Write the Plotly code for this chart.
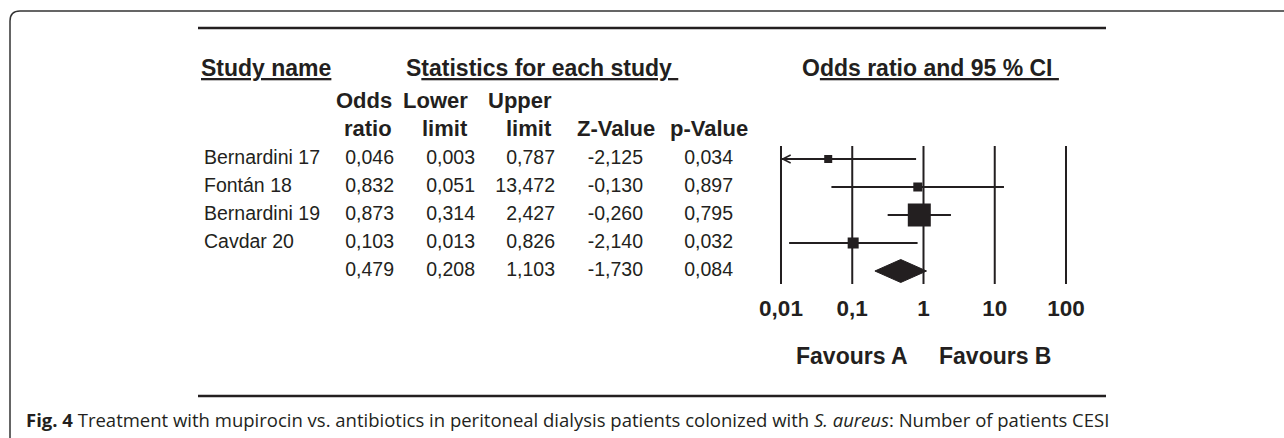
import math
import plotly.graph_objects as go

W, H = 1284, 438

# ---------------- data ----------------
studies = ["Bernardini 17", "Fontán 18", "Bernardini 19", "Cavdar 20"]
odds_ratio = [0.046, 0.832, 0.873, 0.103]
lower_limit = [0.003, 0.051, 0.314, 0.013]
upper_limit = [0.787, 13.472, 2.427, 0.826]
z_value = [-2.125, -0.130, -0.260, -2.140]
p_value = [0.034, 0.897, 0.795, 0.032]

summary_or = 0.479
summary_lower = 0.208
summary_upper = 1.103
summary_z = -1.730
summary_p = 0.084

tick_values = [0.01, 0.1, 1, 10, 100]
tick_labels = ["0,01", "0,1", "1", "10", "100"]

# ---------------- styles / layout ----------------
INK = "#231f20"
SANS = "Liberation Sans, Arial, sans-serif"
square_sizes = [8, 9, 23, 11]
ROW0_PX, ROW_STEP = 159, 28          # pixel position of first row, row spacing
DIAMOND_HALF = 0.41                  # half height of diamond (rows)
LINE_EXT = 0.46                      # vertical guide overhang (rows)
AX_MIN, AX_MAX = -2.0, 2.0           # log10 range of forest axis
PAD = 0.05
X0_PX, X1_PX = 781, 1066             # pixel positions of 0.01 and 100
DEC = (X1_PX - X0_PX) / (AX_MAX - AX_MIN)

name_x = 204
num_right = [394, 475, 555, 643, 733]
head_right = [394, 470, 554, 657, 750]


def fmt(v):
    return f"{v:.3f}".replace(".", ",")


def ppx(x):
    return x / W


def ppy(y):
    return 1 - y / H


n = len(studies)
rows = list(range(n))
sum_row = n

fig = go.Figure()

# vertical guide lines
for v in tick_values:
    fig.add_trace(go.Scatter(x=[v, v], y=[-LINE_EXT, sum_row + LINE_EXT], mode="lines",
                             line=dict(color=INK, width=2), xaxis="x", yaxis="y",
                             hoverinfo="skip"))

# confidence intervals
axis_lo = 10 ** AX_MIN
for i in rows:
    lo = max(lower_limit[i], axis_lo)
    fig.add_trace(go.Scatter(x=[lo, upper_limit[i]], y=[i, i], mode="lines",
                             line=dict(color=INK, width=2), xaxis="x", yaxis="y",
                             hoverinfo="skip"))

# squares
fig.add_trace(go.Scatter(x=odds_ratio, y=rows, mode="markers",
                         marker=dict(symbol="square", size=square_sizes, color=INK,
                                     opacity=1, line=dict(width=0)),
                         xaxis="x", yaxis="y", hoverinfo="skip"))

# summary diamond
fig.add_trace(go.Scatter(
    x=[summary_lower, summary_or, summary_upper, summary_or, summary_lower],
    y=[sum_row, sum_row - DIAMOND_HALF, sum_row, sum_row + DIAMOND_HALF, sum_row],
    mode="lines", fill="toself", fillcolor=INK, line=dict(color=INK, width=1),
    xaxis="x", yaxis="y", hoverinfo="skip"))

# tick labels
tick_row = (310 - ROW0_PX) / ROW_STEP
fig.add_trace(go.Scatter(x=tick_values, y=[tick_row] * len(tick_values), mode="text",
                         text=[f"<b>{t}</b>" for t in tick_labels],
                         textfont=dict(family=SANS, size=22.5, color=INK),
                         textposition="middle center", cliponaxis=False,
                         xaxis="x", yaxis="y", hoverinfo="skip"))

# table: study names
fig.add_trace(go.Scatter(x=[name_x] * n, y=rows, mode="text", text=studies,
                         textposition="middle right", cliponaxis=False,
                         textfont=dict(family=SANS, size=19.5, color=INK),
                         xaxis="x2", yaxis="y", hoverinfo="skip"))

columns = [
    odds_ratio + [summary_or],
    lower_limit + [summary_lower],
    upper_limit + [summary_upper],
    z_value + [summary_z],
    p_value + [summary_p],
]
for xr, col in zip(num_right, columns):
    fig.add_trace(go.Scatter(x=[xr] * len(col), y=list(range(len(col))), mode="text",
                             text=[fmt(v) for v in col], textposition="middle left",
                             cliponaxis=False,
                             textfont=dict(family=SANS, size=19.5, color=INK),
                             xaxis="x2", yaxis="y", hoverinfo="skip"))

annotations = []
# main headers
for txt, x in [("<u>Study name</u>", 199),
               ("S<u>tatistics for each study\u00a0</u>", 404),
               ("O<u>dds ratio and 95 % CI\u00a0</u>", 800)]:
    annotations.append(dict(text=f"<b>{txt}</b>", x=ppx(x), y=ppy(68), xref="paper",
                            yref="paper", xanchor="left", yanchor="middle",
                            showarrow=False, font=dict(family=SANS, size=23, color=INK)))
# column headers
head1 = ["Odds", "Lower", "Upper", "", ""]
head2 = ["ratio", "limit", "limit", "Z-Value", "p-Value"]
for xr, a, b in zip(head_right, head1, head2):
    for txt, yy in [(a, 100), (b, 128)]:
        if txt:
            annotations.append(dict(text=f"<b>{txt}</b>", x=ppx(xr), y=ppy(yy),
                                    xref="paper", yref="paper", xanchor="right",
                                    yanchor="middle", showarrow=False,
                                    font=dict(family=SANS, size=22, color=INK)))
# favours
for txt, xv in [("Favours A", 0.1), ("Favours B", 10)]:
    annotations.append(dict(text=f"<b>{txt}</b>", x=math.log10(xv), xref="x",
                            y=ppy(356), yref="paper", xanchor="center", yanchor="middle",
                            showarrow=False, font=dict(family=SANS, size=23, color=INK)))
# arrow for truncated CI
for i in rows:
    if lower_limit[i] < axis_lo:
        annotations.append(dict(x=AX_MIN, y=i, xref="x", yref="y", text="",
                                showarrow=True, arrowhead=5, arrowsize=1.3,
                                arrowwidth=1.2, arrowcolor=INK, ax=30, ay=0,
                                standoff=0))
# caption
annotations.append(dict(
    text="<b>Fig. 4</b> Treatment with mupirocin vs. antibiotics in peritoneal dialysis "
         "patients colonized with <i>S. aureus</i>: Number of patients CESI",
    x=ppx(24), y=ppy(419), xref="paper", yref="paper", xanchor="left",
    yanchor="middle", showarrow=False,
    font=dict(family="Open Sans, sans-serif", size=18.5, color=INK)))

r = 10
frame_path = (f"M {ppx(10)},{ppy(H + 5)} L {ppx(10)},{ppy(11 + r)} "
              f"Q {ppx(10)},{ppy(11)} {ppx(10 + r)},{ppy(11)} L {ppx(W + 5)},{ppy(11)}")
shapes = [
    dict(type="path", path=frame_path, xref="paper", yref="paper",
         line=dict(color="#333333", width=1.5)),
    dict(type="line", x0=ppx(198), x1=ppx(1106), y0=ppy(28), y1=ppy(28),
         xref="paper", yref="paper", line=dict(color=INK, width=2.5)),
    dict(type="line", x0=ppx(198), x1=ppx(1106), y0=ppy(396), y1=ppy(396),
         xref="paper", yref="paper", line=dict(color=INK, width=2.5)),
]

y_top = -ROW0_PX / ROW_STEP
y_bot = (H - ROW0_PX) / ROW_STEP
dom_l = (X0_PX - PAD * DEC) / W
dom_r = (X1_PX + PAD * DEC) / W

fig.update_layout(
    width=W, height=H, margin=dict(l=0, r=0, t=0, b=0),
    paper_bgcolor="white", plot_bgcolor="rgba(0,0,0,0)", showlegend=False,
    xaxis=dict(type="log", range=[AX_MIN - PAD, AX_MAX + PAD], domain=[dom_l, dom_r],
               visible=False, anchor="y"),
    xaxis2=dict(range=[0, W], domain=[0, 1], visible=False, anchor="y"),
    yaxis=dict(range=[y_bot, y_top], domain=[0, 1], visible=False),
    annotations=annotations, shapes=shapes,
)

fig.write_html(
    "out.html",
    config={"displayModeBar": False},
    post_script="document.body.style.margin='0';document.body.style.padding='0';"
                "document.body.style.overflow='hidden';",
)
